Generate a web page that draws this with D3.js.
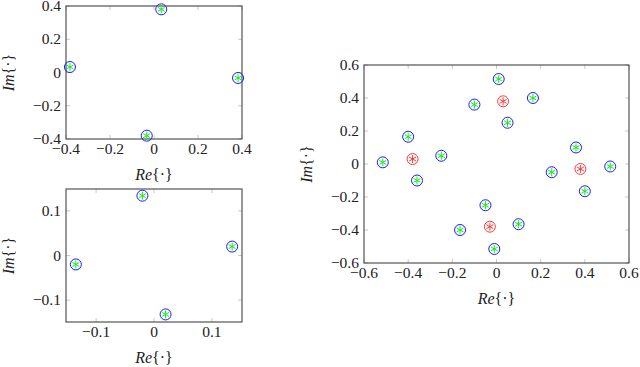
<!DOCTYPE html>
<html>
<head>
<meta charset="utf-8">
<script src="https://cdn.jsdelivr.net/npm/d3@7.9.0/dist/d3.min.js"></script>
<style>
  body { margin: 0; background: #fff; }
  text { font-family: 'Liberation Serif', 'DejaVu Serif', 'Times New Roman', serif; fill: #222; }
</style>
</head>
<body>
<svg id="chart" width="640" height="367"></svg>
<script>
// top-left panel
const topRe = [-0.382, 0.033, 0.382, -0.033];
const topIm = [0.033, 0.38, -0.033, -0.38];
const topTicks = [-0.4, -0.2, 0, 0.2, 0.4];

// bottom-left panel
const botRe = [-0.135, -0.02, 0.135, 0.02];
const botIm = [-0.02, 0.134, 0.02, -0.132];
const botTicks = [-0.1, 0, 0.1];

// right panel: blue/green points
const rightRe = [-0.515, -0.40, -0.36, -0.25, -0.10, 0.01, 0.05, 0.165, 0.36, 0.25, 0.515, 0.40, -0.05, -0.165, 0.10, -0.01];
const rightIm = [0.01, 0.165, -0.10, 0.05, 0.36, 0.515, 0.25, 0.40, 0.10, -0.05, -0.015, -0.165, -0.25, -0.40, -0.365, -0.515];
// right panel: red points
const redRe = [-0.38, 0.03, 0.38, -0.03];
const redIm = [0.03, 0.38, -0.03, -0.38];
const rightTicks = [-0.6, -0.4, -0.2, 0, 0.2, 0.4, 0.6];

const svg = d3.select("#chart");
const fmt = (v) => (v < 0 ? "\u2212" : "") + d3.format("")(Math.abs(v));
const FONT = "Liberation Serif";
const FS = 15.5;

function drawPanel(box, domX, domY, ticksX, ticksY) {
  const x = d3.scaleLinear().domain(domX).range([box.x0, box.x1]);
  const y = d3.scaleLinear().domain(domY).range([box.y1, box.y0]);
  const g = svg.append("g");
  const tl = 4;

  // mirrored inner ticks
  ticksX.forEach((t) => {
    g.append("line").attr("x1", x(t)).attr("x2", x(t)).attr("y1", box.y1).attr("y2", box.y1 - tl)
      .attr("stroke", "#bbb").attr("stroke-width", 0.8);
    g.append("line").attr("x1", x(t)).attr("x2", x(t)).attr("y1", box.y0).attr("y2", box.y0 + tl)
      .attr("stroke", "#bbb").attr("stroke-width", 0.8);
    g.append("text").attr("x", x(t)).attr("y", box.y1 + 15).attr("text-anchor", "middle")
      .attr("font-family", FONT).attr("font-size", FS).text(fmt(t));
  });
  ticksY.forEach((t) => {
    g.append("line").attr("x1", box.x0).attr("x2", box.x0 + tl).attr("y1", y(t)).attr("y2", y(t))
      .attr("stroke", "#bbb").attr("stroke-width", 0.8);
    g.append("line").attr("x1", box.x1).attr("x2", box.x1 - tl).attr("y1", y(t)).attr("y2", y(t))
      .attr("stroke", "#bbb").attr("stroke-width", 0.8);
    g.append("text").attr("x", box.x0 - 5).attr("y", y(t) + 5).attr("text-anchor", "end")
      .attr("font-family", FONT).attr("font-size", FS).text(fmt(t));
  });

  g.append("rect").attr("x", box.x0).attr("y", box.y0)
    .attr("width", box.x1 - box.x0).attr("height", box.y1 - box.y0)
    .attr("fill", "none").attr("stroke", "#444").attr("stroke-width", 1.1);

  const cx = (box.x0 + box.x1) / 2;
  const cy = (box.y0 + box.y1) / 2;
  const re = g.append("text").attr("x", cx).attr("y", box.y1 + 41).attr("text-anchor", "middle")
    .attr("font-family", FONT).attr("font-size", 16);
  re.append("tspan").attr("font-style", "italic").text("Re");
  re.append("tspan").text("{\u00b7}");
  const im = g.append("text").attr("transform", `translate(${box.imX},${cy}) rotate(-90)`)
    .attr("text-anchor", "middle").attr("font-family", FONT).attr("font-size", 16);
  im.append("tspan").attr("font-style", "italic").text("Im");
  im.append("tspan").text("{\u00b7}");

  return { x, y, g };
}

function asterisk(g, px, py, color, r) {
  [90, 30, 150].forEach((a) => {
    const dx = r * Math.cos(a * Math.PI / 180);
    const dy = r * Math.sin(a * Math.PI / 180);
    g.append("line").attr("x1", px - dx).attr("x2", px + dx).attr("y1", py - dy).attr("y2", py + dy)
      .attr("stroke", color).attr("stroke-width", 1);
  });
}

function drawPoints(p, reArr, imArr, ring, star) {
  reArr.forEach((v, i) => {
    const px = p.x(v), py = p.y(imArr[i]);
    p.g.append("circle").attr("cx", px).attr("cy", py).attr("r", 5.5)
      .attr("fill", "none").attr("stroke", ring).attr("stroke-width", 1);
    asterisk(p.g, px, py, star, 4);
  });
}

const pTop = drawPanel({ x0: 66, x1: 242, y0: 6, y1: 139, imX: 14 }, [-0.4, 0.4], [-0.4, 0.4], topTicks, topTicks);
drawPoints(pTop, topRe, topIm, "#1a1aff", "#11ee11");

const pBot = drawPanel({ x0: 66, x1: 242, y0: 189, y1: 322, imX: 14 }, [-0.152, 0.152], [-0.149, 0.149], botTicks, botTicks);
drawPoints(pBot, botRe, botIm, "#1a1aff", "#11ee11");

const pRight = drawPanel({ x0: 364, x1: 629, y0: 65, y1: 263, imX: 312 }, [-0.6, 0.6], [-0.6, 0.6], rightTicks, rightTicks);
drawPoints(pRight, rightRe, rightIm, "#1a1aff", "#11ee11");
drawPoints(pRight, redRe, redIm, "#ff3a3a", "#ff3a3a");
</script>
</body>
</html>
